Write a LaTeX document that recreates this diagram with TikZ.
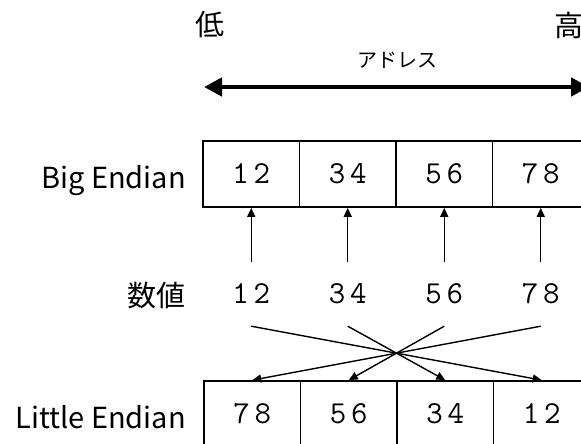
\documentclass[tikz,border=0pt]{standalone}
\usepackage{fontspec}
\setmainfont{Noto Sans CJK JP}
\newfontfamily\numfam{Latin Modern Mono}[LetterSpace=15]
\usetikzlibrary{arrows.meta}
\newcommand{\numfont}{\numfam\fontsize{32}{32}\selectfont}
\tikzset{
  cell/.style={draw, line width=1.7pt, minimum width=96.5pt, minimum height=66pt, inner sep=0pt, font=\numfont},
  val/.style={minimum height=64pt, inner sep=0pt, font=\numfont},
  lab/.style={anchor=base east, inner sep=0pt, font=\fontsize{29}{29}\selectfont},
  up/.style={-{Triangle[length=9pt,width=8pt]}, line width=1.4pt},
  cross/.style={-{Triangle[length=9pt,width=8pt]}, line width=1.4pt},
  addr/.style={{Triangle[length=18pt,width=18pt]}-{Triangle[length=18pt,width=18pt]}, line width=4.5pt}
}
\begin{document}
\begin{tikzpicture}[x=1pt,y=-1pt]
\clip (0,0) rectangle (581,444);
\useasboundingbox (0,0) rectangle (581,444);
% top
\node[inner sep=0pt, font=\fontsize{29}{29}\selectfont] (low) at (210,25) {低};
\node[inner sep=0pt, font=\fontsize{29}{29}\selectfont] (high) at (569,25) {高};
\node[inner sep=0pt, font=\fontsize{20}{20}\selectfont] (addrlab) at (397,60) {アドレス};
\coordinate (aL) at (204,87);
\coordinate (aR) at (589,87);
\draw[addr] (aL) -- (aR);
% big endian
\foreach \i/\t in {1/12,2/34,3/56,4/78}{
  \node[cell] (b\i) at ({203+96.5*(\i-0.5)},174) {\t};
}
\node[lab] (bl) at (186,188) {Big Endian};
% values
\foreach \i/\t in {1/12,2/34,3/56,4/78}{
  \node[val] (v\i) at ({203+96.5*(\i-0.5)},294) {\t};
}
\node[lab] (vl) at (186,306) {数値};
% little endian
\foreach \i/\t in {1/78,2/56,3/34,4/12}{
  \node[cell] (l\i) at ({204+96.5*(\i-0.5)},414) {\t};
}
\node[lab] (ll) at (186,428) {Little Endian};
% arrows
\foreach \i in {1,...,4}{
  \draw[up] (v\i.north) -- (b\i.south);
}
\draw[cross] (v1.south) -- (l4.north);
\draw[cross] (v2.south) -- (l3.north);
\draw[cross] (v3.south) -- (l2.north);
\draw[cross] (v4.south) -- (l1.north);
\end{tikzpicture}
\end{document}
